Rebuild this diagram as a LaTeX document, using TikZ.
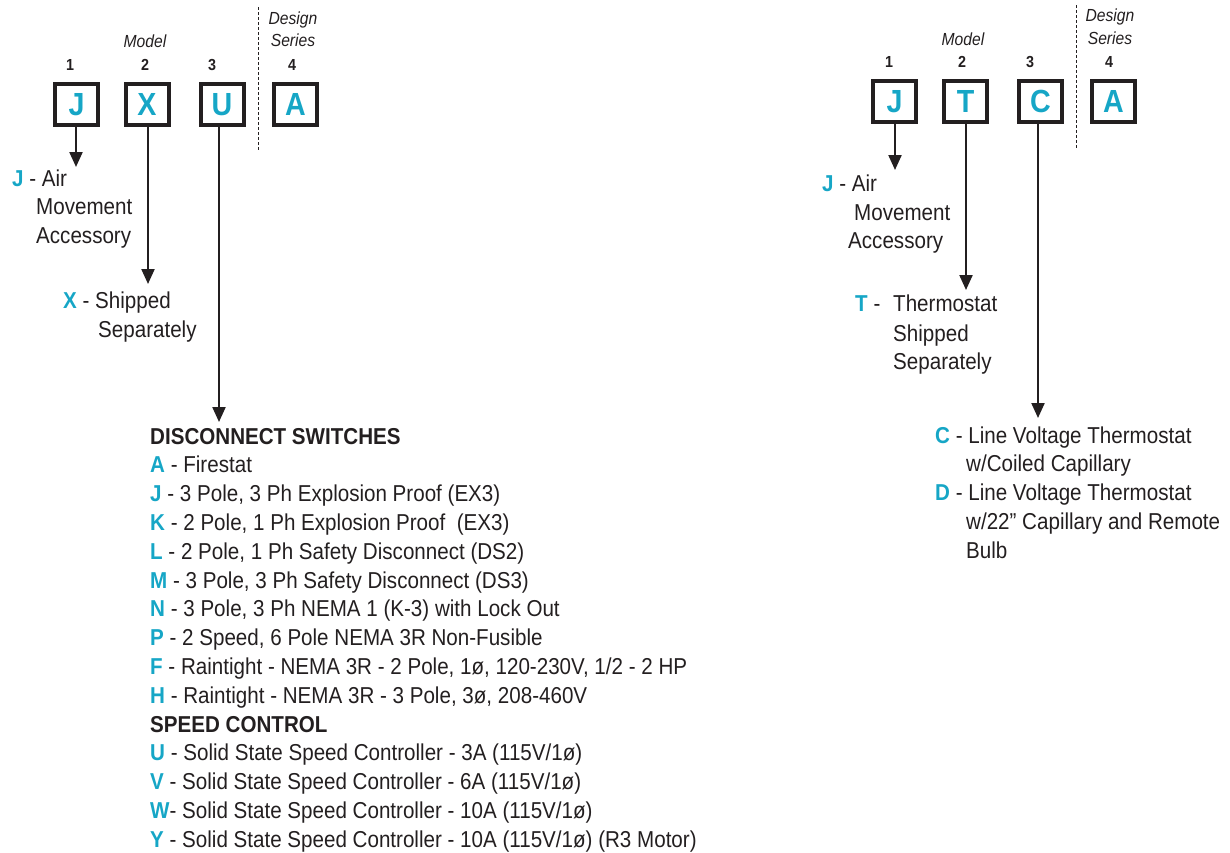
\documentclass[tikz,border=0pt]{standalone}
\usepackage{fontspec}
\setmainfont{Liberation Sans}[FakeStretch=0.895]
\usetikzlibrary{arrows.meta}
\definecolor{cy}{HTML}{16A6C6}
\definecolor{ink}{HTML}{231F20}
\newcommand{\K}[1]{\textcolor{cy}{\bfseries #1}}
\begin{document}
\begin{tikzpicture}[x=1pt,y=-1pt,
 box/.style={draw=ink, line width=4pt, minimum width=43pt, minimum height=41pt, inner sep=0pt, font=\fontsize{32}{34}\selectfont\bfseries, text=cy},
 num/.style={anchor=base, inner sep=0pt, font=\fontsize{16}{18}\selectfont\bfseries, text=ink},
 headlabel/.style={anchor=base, inner sep=0pt, font=\fontsize{17.5}{19}\selectfont\itshape, text=ink},
 txt/.style={anchor=base west, inner sep=0pt, font=\fontsize{23}{26}\selectfont, text=ink},
 arr/.style={draw=ink, line width=2.2pt, -{Triangle[length=15pt,width=13pt]}},
 sepline/.style={draw=ink, line width=1pt, dash pattern=on 3pt off 2pt}
]
\useasboundingbox (0,0) rectangle (1230,852);

% ---------- left code ----------
\node[headlabel] (lmodel) at (145,47) {Model};
\node[headlabel] (ldes) at (293,24) {Design};
\node[headlabel] (lser) at (293,46) {Series};
\node[num] (ln1) at (70,70) {1};
\node[num] (ln2) at (145,70) {2};
\node[num] (ln3) at (212,70) {3};
\node[num] (ln4) at (292,70) {4};
\node[box] (lJ) at (76.5,104.5) {J};
\node[box] (lX) at (147,104.5) {X};
\node[box] (lU) at (222,104.5) {U};
\node[box] (lA) at (295.5,104.5) {A};
\coordinate (ldtop) at (258,7);
\coordinate (ldbot) at (258,150);
\draw[sepline] (ldtop) -- (ldbot);

\coordinate (tJ) at (76,167);
\coordinate (tX) at (148,284);
\coordinate (tU) at (219,422);
\draw[arr] (lJ.south -| tJ) -- (tJ);
\draw[arr] (lX.south -| tX) -- (tX);
\draw[arr] (lU.south -| tU) -- (tU);

\node[txt] (lJa) at (12,186) {\K{J} - Air};
\node[txt] (lJb) at (36,214) {Movement};
\node[txt] (lJc) at (36,243) {Accessory};
\node[txt] (lXa) at (63,308) {\K{X} - Shipped};
\node[txt] (lXb) at (98,337) {Separately};

\foreach \t [count=\i from 0] in {
 {\bfseries DISCONNECT SWITCHES},
 {\K{A} - Firestat},
 {\K{J} - 3 Pole, 3 Ph Explosion Proof (EX3)},
 {\K{K} - 2 Pole, 1 Ph Explosion Proof\ \ (EX3)},
 {\K{L} - 2 Pole, 1 Ph Safety Disconnect (DS2)},
 {\K{M} - 3 Pole, 3 Ph Safety Disconnect (DS3)},
 {\K{N} - 3 Pole, 3 Ph NEMA 1 (K-3) with Lock Out},
 {\K{P} - 2 Speed, 6 Pole NEMA 3R Non-Fusible},
 {\K{F} - Raintight - NEMA 3R - 2 Pole, 1ø, 120-230V, 1/2 - 2 HP},
 {\K{H} - Raintight - NEMA 3R - 3 Pole, 3ø, 208-460V},
 {\bfseries SPEED CONTROL},
 {\K{U} - Solid State Speed Controller - 3A (115V/1ø)},
 {\K{V} - Solid State Speed Controller - 6A (115V/1ø)},
 {\K{W}- Solid State Speed Controller - 10A (115V/1ø)},
 {\K{Y} - Solid State Speed Controller - 10A (115V/1ø) (R3 Motor)}}
 \node[txt] (li\i) at (150,444+28.8*\i) {\t};

% ---------- right code ----------
\node[headlabel] (rmodel) at (963,45) {Model};
\node[headlabel] (rdes) at (1110,21) {Design};
\node[headlabel] (rser) at (1110,44) {Series};
\node[num] (rn1) at (889,67) {1};
\node[num] (rn2) at (962,67) {2};
\node[num] (rn3) at (1030,67) {3};
\node[num] (rn4) at (1109,67) {4};
\node[box] (rJ) at (894.5,101.5) {J};
\node[box] (rT) at (965.5,101.5) {T};
\node[box] (rC) at (1040.5,101.5) {C};
\node[box] (rA) at (1113.5,101.5) {A};
\coordinate (rdtop) at (1076,5);
\coordinate (rdbot) at (1076,148);
\draw[sepline] (rdtop) -- (rdbot);

\coordinate (sJ) at (895,170);
\coordinate (sT) at (966,290);
\coordinate (sC) at (1038,418);
\draw[arr] (rJ.south -| sJ) -- (sJ);
\draw[arr] (rT.south -| sT) -- (sT);
\draw[arr] (rC.south -| sC) -- (sC);

\node[txt] (rJa) at (822,191) {\K{J} - Air};
\node[txt] (rJb) at (854,220) {Movement};
\node[txt] (rJc) at (848,248) {Accessory};
\node[txt] (rTa) at (855,311) {\K{T} -};
\node[txt] (rTb) at (893,311) {Thermostat};
\node[txt] (rTc) at (893,341) {Shipped};
\node[txt] (rTd) at (893,369) {Separately};
\node[txt] (rCa) at (935,443) {\K{C} - Line Voltage Thermostat};
\node[txt] (rCb) at (966,471) {w/Coiled Capillary};
\node[txt] (rDa) at (935,500) {\K{D} - Line Voltage Thermostat};
\node[txt] (rDb) at (966,529) {w/22” Capillary and Remote};
\node[txt] (rDc) at (966,558) {Bulb};
\end{tikzpicture}
\end{document}
